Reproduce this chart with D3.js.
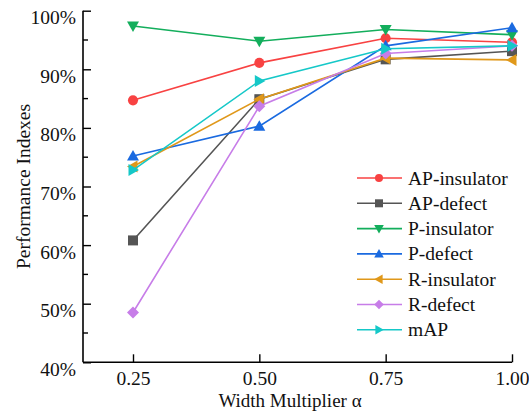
<!DOCTYPE html>
<html><head><meta charset="utf-8">
<script src="https://cdn.jsdelivr.net/npm/d3@7"></script>
<style>body{margin:0;background:#fff}svg{display:block}svg text{font-family:"Liberation Serif","Times New Roman",serif;fill:#111}</style>
</head><body><svg id="c" width="529" height="416"></svg>
<script>
const xValues = [0.25, 0.50, 0.75, 1.00];
const xTickLabels = ["0.25", "0.50", "0.75", "1.00"];
const yTicks = [40, 50, 60, 70, 80, 90, 100];
const seriesNames = ["AP-insulator", "AP-defect", "P-insulator", "P-defect", "R-insulator", "R-defect", "mAP"];
const apInsulator = [84.7, 91.1, 95.3, 94.6];
const apDefect = [60.8, 84.9, 91.7, 93.1];
const pInsulator = [97.4, 94.8, 96.8, 95.9];
const pDefect = [75.2, 80.3, 94.0, 97.1];
const rInsulator = [73.4, 84.9, 91.9, 91.6];
const rDefect = [48.5, 83.7, 92.7, 94.0];
const mAP = [72.8, 88.0, 93.5, 94.0];
const seriesValues = [apInsulator, apDefect, pInsulator, pDefect, rInsulator, rDefect, mAP];
const colors = ["#f84242", "#555555", "#13ae5c", "#1a6ae0", "#e0981a", "#c77de8", "#15c8c8"];
const markers = ["circle", "square", "down", "up", "left", "diamond", "right"];

const FONT = '"Liberation Serif", "Times New Roman", serif';
const svg = d3.select("#c");
const L = 83, R = 512, T = 10.7, B = 362.3;
const x = d3.scaleLinear().domain([0.25, 1.0]).range([133, 512]);
const y = d3.scaleLinear().domain([40, 100]).range([B, T]);

// axes
const yAxis = d3.axisLeft(y).tickValues(yTicks).tickSize(-8).tickPadding(7).tickFormat(d => d + "%");
const gy = svg.append("g").attr("transform", `translate(${L},0)`).call(yAxis)
  .attr("font-family", FONT).attr("font-size", 19.5);
gy.select(".domain").attr("d", `M0,${T}V${B}`).attr("stroke", "#000").attr("stroke-width", 1.6);
gy.selectAll(".tick line").attr("stroke", "#000").attr("stroke-width", 1.4);
gy.selectAll(".tick text").attr("fill", "#111").attr("dy", "0.67em");
const minor = d3.range(45, 100, 10);
gy.selectAll(".minor").data(minor).join("line").attr("class", "minor")
  .attr("x1", 0).attr("x2", 5).attr("y1", d => y(d)).attr("y2", d => y(d))
  .attr("stroke", "#000").attr("stroke-width", 1.4);

const xAxis = d3.axisBottom(x).tickValues(xValues).tickSize(-8).tickPadding(9).tickFormat((d, i) => xTickLabels[i]);
const gx = svg.append("g").attr("transform", `translate(0,${B})`).call(xAxis)
  .attr("font-family", FONT).attr("font-size", 19.5);
gx.select(".domain").attr("d", `M${L},0H${R}`).attr("stroke", "#000").attr("stroke-width", 1.6);
gx.selectAll(".tick line").attr("stroke", "#000").attr("stroke-width", 1.4);
gx.selectAll(".tick text").attr("fill", "#111").attr("dy", "0.72em");

svg.append("text").attr("x", 290).attr("y", 407).attr("text-anchor", "middle").attr("font-size", 19).attr("font-family", FONT).text("Width Multiplier α");
svg.append("text").attr("transform", `translate(30,${(T + B) / 2}) rotate(-90)`).attr("text-anchor", "middle").attr("font-size", 19.5).attr("font-family", FONT).text("Performance Indexes");

function markerPath(type, s) {
  const h = s;
  switch (type) {
    case "circle": return d3.symbol(d3.symbolCircle, s * s * 0.8)();
    case "square": return `M${-h*0.5},${-h*0.5}H${h*0.5}V${h*0.5}H${-h*0.5}Z`;
    case "diamond": return `M0,${-h*0.6}L${h*0.6},0L0,${h*0.6}L${-h*0.6},0Z`;
    case "up": return `M0,${-h*0.6}L${h*0.6},${h*0.45}L${-h*0.6},${h*0.45}Z`;
    case "down": return `M0,${h*0.6}L${h*0.6},${-h*0.45}L${-h*0.6},${-h*0.45}Z`;
    case "left": return `M${-h*0.6},0L${h*0.45},${-h*0.6}L${h*0.45},${h*0.6}Z`;
    case "right": return `M${h*0.6},0L${-h*0.45},${-h*0.6}L${-h*0.45},${h*0.6}Z`;
  }
}

const line = d3.line().x((d, i) => x(xValues[i])).y(d => y(d));
seriesValues.forEach((vals, k) => {
  const g = svg.append("g");
  g.append("path").attr("d", line(vals)).attr("fill", "none").attr("stroke", colors[k]).attr("stroke-width", 1.6);
  g.selectAll("path.m").data(vals).join("path").attr("class", "m")
    .attr("transform", (d, i) => `translate(${x(xValues[i])},${y(d)})`)
    .attr("d", markerPath(markers[k], 10)).attr("fill", colors[k]);
});

// legend
const leg = svg.append("g");
seriesNames.forEach((n, k) => {
  const yy = 178 + k * 25.3;
  leg.append("line").attr("x1", 357).attr("x2", 402).attr("y1", yy).attr("y2", yy).attr("stroke", colors[k]).attr("stroke-width", 1.6);
  leg.append("path").attr("transform", `translate(379,${yy})`).attr("d", markerPath(markers[k], 8)).attr("fill", colors[k]);
  leg.append("text").attr("x", 408).attr("y", yy + 6.5).attr("font-size", 19.5).attr("font-family", FONT).text(n);
});
</script></body></html>
